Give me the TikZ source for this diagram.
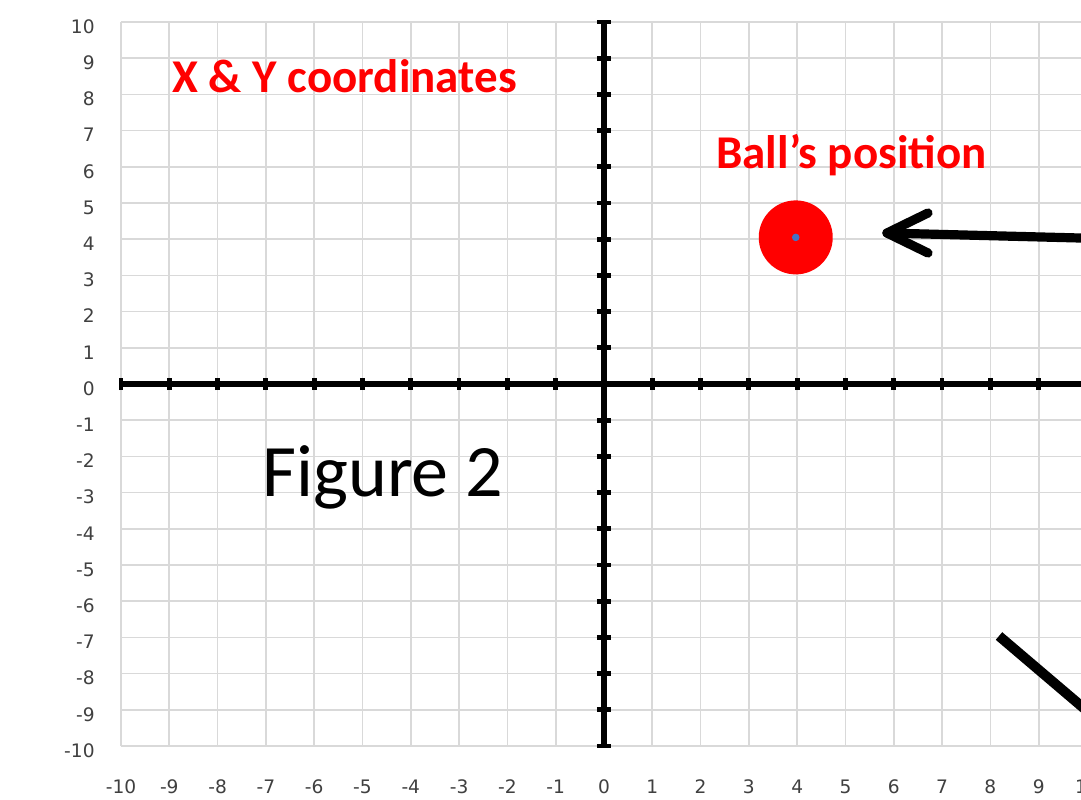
\documentclass[tikz,border=0pt]{standalone}
\usepackage{fontspec}
\setmainfont{Carlito}
\newfontfamily\tickfont{DejaVu Sans}
\definecolor{gridgray}{HTML}{D9D9D9}
\definecolor{labelgray}{HTML}{404040}
\definecolor{dotblue}{HTML}{4472C4}
\begin{document}
\begin{tikzpicture}[x=24.15pt,y=18.1pt,
  gridline/.style={draw=gridgray, line width=0.85pt},
  axisline/.style={line width=2.6pt},
  tickmark/.style={line width=2.4pt},
  ticklabel/.style={font=\tickfont\fontsize{9.3}{9.3}\selectfont, text=labelgray, inner sep=0pt},
  redtitle/.style={font=\bfseries\fontsize{23.5}{24}\selectfont, text=red, inner sep=0pt},
  bigtitle/.style={font=\fontsize{37}{38}\selectfont, text=black, inner sep=0pt},
  pointer/.style={line width=4.6pt, line cap=round, line join=round},
  slash/.style={line width=5pt}]
\useasboundingbox (-12.505,-11.464) rectangle (9.876,10.608);
\clip (-12.505,-11.464) rectangle (9.876,10.608);
\fill[white] (-12.505,-11.464) rectangle (9.876,10.608);
% grid
\foreach \i in {-10,...,10} {
  \draw[gridline] (\i,-10) -- (\i,10);
  \draw[gridline] (-10,\i) -- (10,\i);
}
% axes
\draw[axisline] (-10,0) -- (10.5,0);
\draw[axisline] (0,-10) -- (0,10);
\foreach \i in {-10,...,10} {
  \draw[tickmark] ([yshift=-3pt]\i,0) -- ([yshift=3pt]\i,0);
  \draw[tickmark] ([xshift=-3.5pt]0,\i) -- ([xshift=3.5pt]0,\i);
}
% tick labels
\foreach \i [count=\k] in {-10,...,10} {
  \node[ticklabel, anchor=east] (yl\k) at (-10.538,\i-0.124) {\i};
  \node[ticklabel] (xl\k) at (\i,-11.133) {\i};
}
% titles
\node[redtitle, anchor=base west] (xytitle) at (-8.944,8.039) {X \& Y coordinates};
\node[redtitle, anchor=base west] (balltitle) at (2.319,5.959) {Ball’s position};
\node[bigtitle, anchor=base west] (figtitle) at (-7.08,-3.094) {Figure 2};
% ball
\node[circle, fill=red, minimum size=37pt, inner sep=0pt] (ball) at (3.97,4.05) {};
\fill[dotblue] (ball.center) circle (1.9pt);
% arrow pointing at the ball
\coordinate (tip) at (5.859,4.171);
\coordinate (tail) at (10.27,4.019);
\coordinate (armA) at (6.708,4.724);
\coordinate (armB) at (6.708,3.619);
\draw[pointer] (armA) -- (tip) -- (armB);
\draw[pointer] (tip) -- (tail);
% second line
\coordinate (lineA) at (8.178,-6.961);
\coordinate (lineB) at (10.27,-9.337);
\draw[slash] (lineA) -- (lineB);
\end{tikzpicture}
\end{document}
